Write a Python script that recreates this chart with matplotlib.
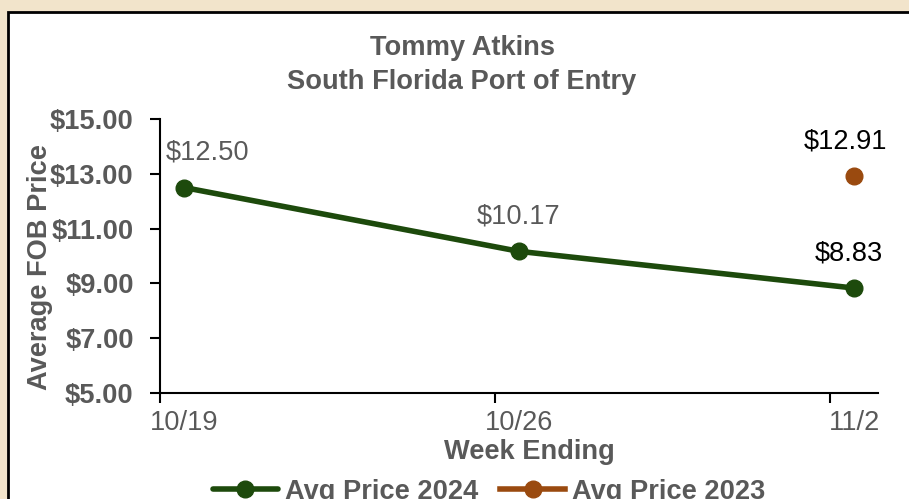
import matplotlib.pyplot as plt
from matplotlib.patches import Rectangle
import numpy as np

plt.rcParams['font.family'] = ['Liberation Sans', 'DejaVu Sans']

# data
weeks = ['10/19', '10/26', '11/2']
days = [0, 7, 14]  # days since 10/19
price_2024 = [12.50, 10.17, 8.83]
price_2023 = [np.nan, np.nan, 12.91]
yticks = [5, 7, 9, 11, 13, 15]

green = '#1D4A0C'
brown = '#9A4A0F'
grey = '#595959'
fs = 19.6

fig = plt.figure(figsize=(9.09, 4.99), dpi=100)
fig.patch.set_facecolor('#F2E4CB')
# white chart area, cut off on the right and bottom
fig.patches.append(Rectangle((8 / 909, -0.05), 1.05, 1 - 12 / 499 + 0.05,
                             transform=fig.transFigure, facecolor='white',
                             edgecolor='black', linewidth=2, zorder=-5))

ax = fig.add_axes([160 / 909, 1 - 393 / 499, (878 - 160) / 909, (393 - 119) / 499])
ax.set_facecolor('none')

ax.plot(days, price_2024, color=green, lw=4, marker='o', ms=12,
        label='Avg Price 2024', solid_capstyle='round')
ax.plot(days, price_2023, color=brown, lw=4, marker='o', ms=12,
        label='Avg Price 2023')

# data labels
offs = [(17, 25), (0, 25), (-3.5, 25)]
cols = [grey, grey, 'black']
for d, v, o, c in zip(days, price_2024, offs, cols):
    ax.annotate(f'${v:.2f}', (d, v), xytext=o, textcoords='offset points',
                ha='center', va='center', fontsize=fs, color=c)
for d, v in zip(days, price_2023):
    if not np.isnan(v):
        ax.annotate(f'${v:.2f}', (d, v), xytext=(-6, 25), textcoords='offset points',
                    ha='center', va='center', fontsize=fs, color='black')

ax.set_xlim(-0.5, 14.5)
ax.set_ylim(5, 15)
ax.set_yticks(yticks)
ax.set_yticklabels([f'${t:.2f}' for t in yticks], fontsize=fs, fontweight='bold', color=grey)
ax.tick_params(axis='y', direction='out', length=7, width=1.5, pad=12)

# tick marks between weeks, labels at the weeks
ax.set_xticks([d - 0.5 for d in days])
ax.set_xticklabels([])
ax.set_xticks(days, minor=True)
ax.set_xticklabels(weeks, minor=True, fontsize=fs, color=grey)
ax.tick_params(axis='x', which='major', direction='out', length=7, width=1.5)
ax.tick_params(axis='x', which='minor', length=0, pad=12)

for s in ['top', 'right']:
    ax.spines[s].set_visible(False)
for s in ['left', 'bottom']:
    ax.spines[s].set_linewidth(1.5)

fig.text(462 / 909, 1 - 48 / 499, 'Tommy Atkins', ha='center', va='center',
         fontsize=fs, fontweight='bold', color=grey)
fig.text(462 / 909, 1 - 82 / 499, 'South Florida Port of Entry', ha='center', va='center',
         fontsize=fs, fontweight='bold', color=grey)
fig.text(40 / 909, 1 - 267 / 499, 'Average FOB Price', rotation=90, ha='center', va='center',
         fontsize=fs, fontweight='bold', color=grey)
fig.text(529 / 909, 1 - 452 / 499, 'Week Ending', ha='center', va='center',
         fontsize=fs, fontweight='bold', color=grey)

leg = ax.legend(loc='center', bbox_to_anchor=(489 / 909, 1 - 492 / 499),
                bbox_transform=fig.transFigure, ncol=2, frameon=False,
                handlelength=2.4, handletextpad=0.25, columnspacing=0.8,
                prop={'size': fs, 'weight': 'bold'})
for t in leg.get_texts():
    t.set_color(grey)

fig.savefig('out.png', dpi=100, facecolor=fig.get_facecolor())
